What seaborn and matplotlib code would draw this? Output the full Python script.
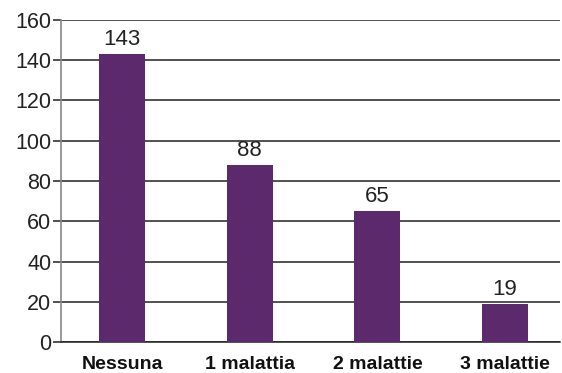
import matplotlib
matplotlib.use("Agg")
import matplotlib.pyplot as plt
import seaborn as sns
import pandas as pd

categories = ["Nessuna", "1 malattia", "2 malattie", "3 malattie"]
counts = [143, 88, 65, 19]
yticks = [0, 20, 40, 60, 80, 100, 120, 140, 160]

sns.set_theme(style="white")
plt.rcParams["font.family"] = ["Liberation Sans", "DejaVu Sans"]

df = pd.DataFrame({"categoria": categories, "n": counts})

fig = plt.figure(figsize=(5.62, 3.73), dpi=100)
ax = fig.add_axes([61 / 562, (373 - 342) / 373, (560 - 61) / 562, (342 - 20) / 373])

sns.barplot(data=df, x="categoria", y="n", color="#5C2A6C", width=0.36,
            saturation=1, linewidth=0, ax=ax, zorder=3)

ax.set_ylim(0, 160)
ax.set_xlim(-0.478, 3.43)
ax.set_yticks(yticks)
ax.set_yticklabels([str(t) for t in yticks], fontsize=15.5, color="#222222")
ax.set_xlabel("")
ax.set_ylabel("")
for lab in ax.get_xticklabels():
    lab.set_fontweight("bold")
    lab.set_fontsize(14)
    lab.set_color("#111111")

ax.yaxis.grid(True, color="#222222", linewidth=1.1, zorder=0)
ax.set_axisbelow(True)
for s in ["top", "right"]:
    ax.spines[s].set_visible(False)
ax.spines["left"].set_color("#888888")
ax.spines["left"].set_linewidth(1.2)
ax.spines["bottom"].set_color("#222222")
ax.spines["bottom"].set_linewidth(1.1)
ax.tick_params(axis="y", left=True, length=6, width=1.1, color="#222222", pad=1)
ax.tick_params(axis="x", bottom=False, pad=4)

for c in ax.containers:
    ax.bar_label(c, labels=[str(v) for v in counts], padding=3,
                 fontsize=16, color="#222222")

fig.savefig("out.png", dpi=100)
